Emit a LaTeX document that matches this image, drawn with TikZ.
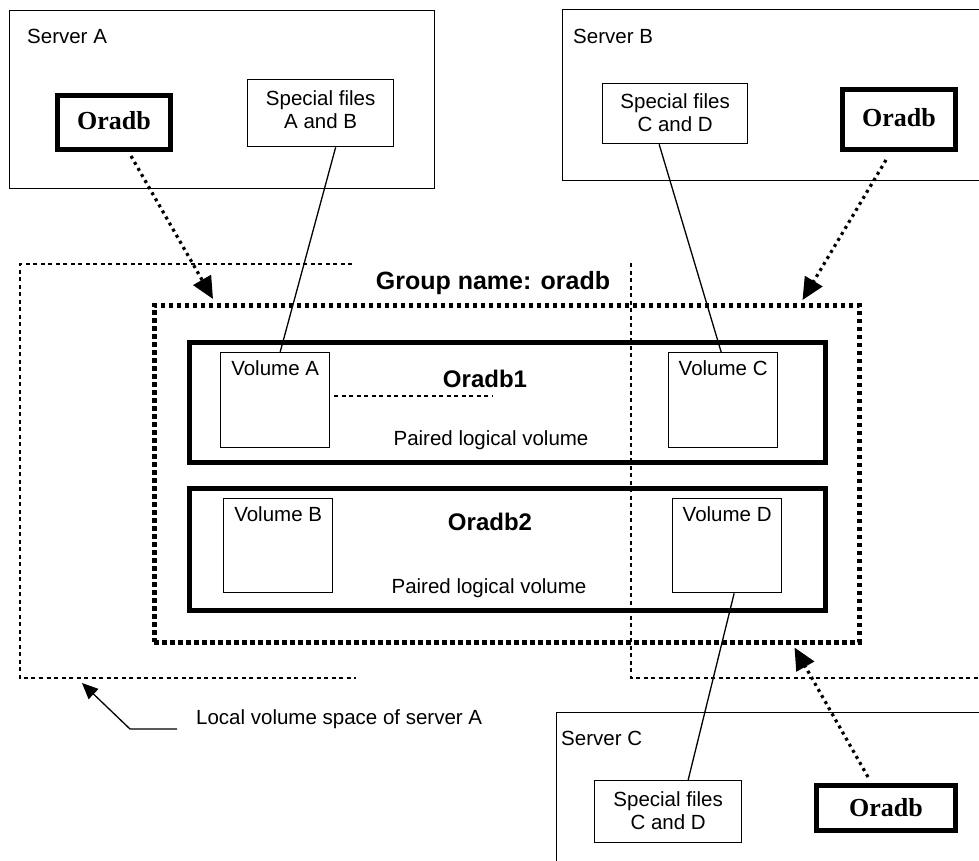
\documentclass[tikz,border=0pt]{standalone}
\usepackage{fontspec}
\setmainfont{Liberation Sans}
\newfontfamily\oraserif{Liberation Serif}
\usetikzlibrary{arrows.meta,calc}

\begin{document}
\begin{tikzpicture}[x=1pt,y=-1pt,
  txt/.style={font=\fontsize{20.5}{23}\selectfont, inner sep=0pt, align=center},
  boldlbl/.style={font=\fontsize{24}{28}\selectfont\bfseries, inner sep=0pt},
  frame/.style={draw, line width=1.3pt, inner sep=0pt, anchor=north west},
  dbbox/.style={draw, line width=5pt, inner sep=0pt, anchor=north west},
  pairbox/.style={draw, line width=5pt, inner sep=0pt, anchor=north west},
  groupbox/.style={draw, line width=4.5pt, dash pattern=on 4.5pt off 3.5pt, inner sep=0pt, anchor=north west},
  localdash/.style={line width=1.2pt, dash pattern=on 4pt off 3.5pt},
  link/.style={line width=1.3pt},
  dotarrow/.style={line width=3.2pt, dash pattern=on 3pt off 4pt,
    -{Triangle[length=22pt,width=20pt]}},
  callout/.style={line width=1.3pt, -{Triangle[length=16pt,width=14pt]}},
  oraname/.style={font=\fontsize{26}{30}\selectfont\oraserif\bfseries}
]
\useasboundingbox (0,0) rectangle (979,861);

% local volume spaces of the servers
\draw[localdash] (352,264) -- (20,264) -- (20,678) -- (356,678);
\draw[localdash] (631,263) -- (631,678) -- (990,678);

% servers
\node[frame, minimum width=425pt, minimum height=178pt] (srvA) at (9,10) {};
\node[txt, anchor=west] (srvAlbl) at (27,36) {Server A};
\node[frame, minimum width=440pt, minimum height=171pt] (srvB) at (562,9) {};
\node[txt, anchor=west] (srvBlbl) at (573,36) {Server B};
\node[frame, minimum width=440pt, minimum height=170pt] (srvC) at (556,712) {};
\node[txt, anchor=west] (srvClbl) at (561,738) {Server C};

% database instances
\node[dbbox, minimum width=113pt, minimum height=54pt] (oraA) at (55,93) {};
\node[oraname] at ($(oraA.center)+(0,-2)$) {Oradb};
\node[dbbox, minimum width=113pt, minimum height=60pt] (oraB) at (840,87) {};
\node[oraname] at ($(oraB.center)+(0,-2)$) {Oradb};
\node[dbbox, minimum width=139pt, minimum height=45pt] (oraC) at (814,783) {};
\node[oraname] at ($(oraC.center)+(0,0)$) {Oradb};

% special files
\node[frame, minimum width=146pt, minimum height=67pt] (spA) at (247,79) {};
\node[txt] at ($(spA.center)+(0,-3)$) {Special files\\A and B};
\node[frame, minimum width=145pt, minimum height=60pt] (spB) at (602,83) {};
\node[txt] at ($(spB.center)+(0,-1)$) {Special files\\C and D};
\node[frame, minimum width=147pt, minimum height=62pt] (spC) at (594,780) {};
\node[txt] at ($(spC.center)+(0,-1)$) {Special files\\C and D};

% group
\node[groupbox, minimum width=705pt, minimum height=337pt] (group) at (152,303) {};
\node[boldlbl, font=\fontsize{25}{28}\selectfont\bfseries] (grouplbl) at (493,283) {Group name: oradb};

% paired logical volumes
\node[pairbox, minimum width=636pt, minimum height=120pt] (pair1) at (187,340) {};
\node[boldlbl] at (485,379) {Oradb1};
\node[txt] at (491,440) {Paired logical volume};
\node[pairbox, minimum width=636pt, minimum height=122pt] (pair2) at (187,486) {};
\node[boldlbl] at (490,522) {Oradb2};
\node[txt] at (489,588) {Paired logical volume};

% volumes
\node[frame, minimum width=109pt, minimum height=95pt] (volA) at (220,352) {};
\node[txt] at ($(volA.north)+(0,16)$) {Volume A};
\node[frame, minimum width=109pt, minimum height=95pt] (volC) at (668,352) {};
\node[txt] at ($(volC.north)+(0,16)$) {Volume C};
\node[frame, minimum width=109pt, minimum height=94pt] (volB) at (223,498) {};
\node[txt] at ($(volB.north)+(0,16)$) {Volume B};
\node[frame, minimum width=109pt, minimum height=94pt] (volD) at (672,498) {};
\node[txt] at ($(volD.north)+(0,16)$) {Volume D};

% pairing marker
\coordinate (pairmark) at (493,396);
\draw[localdash] (volA.east |- pairmark) ++(4,0) -- (pairmark);

% special files to volumes
\draw[link] ($(spA.south)+(15,0)$) -- ($(volA.north)+(5,0)$);
\draw[link] ($(spB.south)+(-16,0)$) -- ($(volC.north)+(-2,0)$);
\draw[link] ($(volD.south)+(7,0)$) -- ($(spC.north)+(20,0)$);

% instances access the group
\draw[dotarrow] ($(oraA.south)+(17,4)$) -- ($(group.north west)+(61,-4)$);
\draw[dotarrow] ($(oraB.south)+(-13,8)$) -- ($(group.north east)+(-59,-3)$);
\draw[dotarrow] ($(oraC.north)+(-18,-6)$) -- ($(group.south east)+(-67,3)$);

% callout for the local volume space
\node[txt, anchor=west] (lvlbl) at (196,719) {Local volume space of server A};
\coordinate (lvtip) at (82,683);
\coordinate (lvtail) at (177,729);
\draw[callout] (lvtail) -- (130,729) -- (lvtip);
\end{tikzpicture}
\end{document}
